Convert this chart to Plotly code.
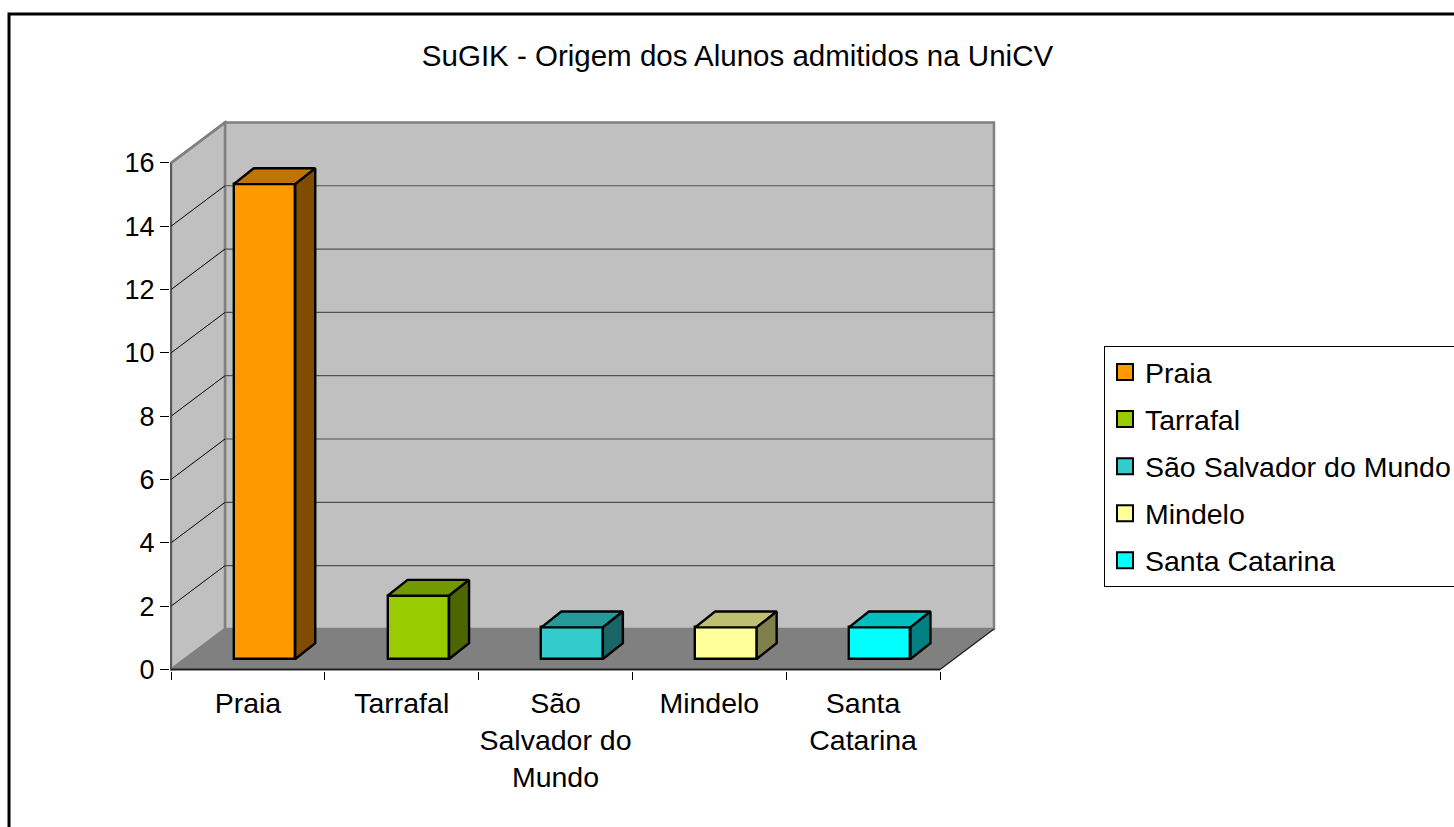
import plotly.graph_objects as go

# ---- data ----
title = "SuGIK - Origem dos Alunos admitidos na UniCV"
categories = ["Praia", "Tarrafal", "São Salvador do Mundo", "Mindelo", "Santa Catarina"]
tick_labels = ["Praia", "Tarrafal", "São<br>Salvador do<br>Mundo", "Mindelo", "Santa<br>Catarina"]
values = [15, 2, 1, 1, 1]
y_ticks = [0, 2, 4, 6, 8, 10, 12, 14, 16]

front_colors = ["#ff9900", "#99cc00", "#33cccc", "#ffff99", "#00ffff"]
top_colors = ["#bf7300", "#739900", "#269999", "#bfbf73", "#00bfbf"]
side_colors = ["#804d00", "#4d6600", "#1a6666", "#80804d", "#008080"]

# ---- page and axis frame ----
W, H = 1454, 827
PL, PR, PT, PB = 170, 998, 118, 671      # plot area in pixels
ox, oy = 171, 669.5                      # pixel position of the chart's front corner
ux, uy = 153.8, 31.66                    # pixels per axis unit
xrange_ = [(PL - ox) / ux - 0.5, (PR - ox) / ux - 0.5]
yrange_ = [(oy - PB) / uy, (oy - PT) / uy]

# ---- pseudo-3D geometry, in axis units ----
wall_dx, wall_dy = 0.351, 1.28           # depth of the chart box
bar_off_x, bar_base = 0.108, 0.33        # bar position inside the box
bar_w = 0.40
bar_dx, bar_dy = 0.13, 0.5               # depth of each bar
x0, x1 = -0.5, len(categories) - 0.5
ymax = y_ticks[-1]
FONT = "Liberation Sans, Arial, sans-serif"


def path(pts):
    return "M " + " L ".join(f"{a} {b}" for a, b in pts) + " Z"


def line(xa, ya, xb, yb, color, width):
    return dict(type="line", xref="x", yref="y", x0=xa, y0=ya, x1=xb, y1=yb,
                line=dict(color=color, width=width), layer="below")


px = lambda p: (p - PL) / (PR - PL)
py = lambda p: (PB - p) / (PB - PT)

shapes = []
# outer chart frame (runs off the right and bottom of the page)
shapes.append(dict(type="rect", xref="paper", yref="paper", x0=px(9), x1=px(1470),
                   y0=py(843), y1=py(14), line=dict(color="black", width=3), layer="below"))
# walls
shapes.append(dict(type="path", xref="x", yref="y", layer="below", fillcolor="#c0c0c0",
                   line=dict(color="#808080", width=2.5),
                   path=path([(x0 + wall_dx, wall_dy), (x1 + wall_dx, wall_dy),
                              (x1 + wall_dx, ymax + wall_dy), (x0 + wall_dx, ymax + wall_dy)])))
shapes.append(dict(type="path", xref="x", yref="y", layer="below", fillcolor="#c0c0c0",
                   line=dict(color="#808080", width=2.5),
                   path=path([(x0, 0), (x0 + wall_dx, wall_dy),
                              (x0 + wall_dx, ymax + wall_dy), (x0, ymax)])))
shapes.append(dict(type="path", xref="x", yref="y", layer="below", fillcolor="#808080",
                   line=dict(color="#808080", width=1),
                   path=path([(x0, 0), (x1, 0), (x1 + wall_dx, wall_dy), (x0 + wall_dx, wall_dy)])))
# gridlines
for t in y_ticks[1:-1]:
    shapes.append(line(x0, t, x0 + wall_dx, t + wall_dy, "black", 1))
    shapes.append(line(x0 + wall_dx, t + wall_dy, x1 + wall_dx, t + wall_dy, "#505050", 1.2))
# axis edges
shapes.append(line(x0, 0, x0, ymax, "#404040", 1.2))
shapes.append(line(x0, ymax, x0 + wall_dx, ymax + wall_dy, "#808080", 2.5))
shapes.append(line(x0, 0, x1, 0, "#202020", 2))
shapes.append(line(x1, 0, x1 + wall_dx, wall_dy, "#202020", 1.2))

fig = go.Figure()

# front faces
idx = list(range(len(categories)))
fig.add_trace(go.Bar(
    x=[i + bar_off_x for i in idx], y=values, base=[bar_base] * len(values), width=bar_w,
    marker=dict(color=front_colors, line=dict(color="black", width=2.4)),
    showlegend=False, hoverinfo="skip"))

# top and side faces
for i, v in enumerate(values):
    left = i + bar_off_x - bar_w / 2
    right = left + bar_w
    top = bar_base + v
    fig.add_trace(go.Scatter(
        x=[left, left + bar_dx, right + bar_dx, right, left],
        y=[top, top + bar_dy, top + bar_dy, top, top],
        mode="lines", fill="toself", fillcolor=top_colors[i],
        line=dict(color="black", width=2.4), showlegend=False, hoverinfo="skip"))
    fig.add_trace(go.Scatter(
        x=[right, right + bar_dx, right + bar_dx, right, right],
        y=[top, top + bar_dy, bar_base + bar_dy, bar_base, top],
        mode="lines", fill="toself", fillcolor=side_colors[i],
        line=dict(color="black", width=2.4), showlegend=False, hoverinfo="skip"))

# legend entries
for i, name in enumerate(categories):
    fig.add_trace(go.Scatter(
        x=[None], y=[None], mode="markers", name=name, legendgroup=name,
        marker=dict(symbol="square", size=16, color=front_colors[i],
                    line=dict(color="black", width=2))))

fig.update_layout(
    width=W, height=H,
    margin=dict(l=PL, r=W - PR, t=PT, b=H - PB, pad=0, autoexpand=False),
    paper_bgcolor="white", plot_bgcolor="rgba(0,0,0,0)",
    font=dict(family=FONT, size=28.5, color="black"),
    title=dict(text=title, x=737.5 / W, xanchor="center", y=1 - 56 / H, yanchor="middle",
               font=dict(family=FONT, size=29.5, color="black")),
    showlegend=True,
    legend=dict(x=px(1104), xanchor="left", y=py(346), yanchor="top",
                bordercolor="black", borderwidth=1, bgcolor="white",
                tracegroupgap=7, font=dict(family=FONT, size=28.5, color="black")),
    shapes=shapes,
    bargap=0,
    xaxis=dict(range=xrange_, tickmode="array", tickvals=idx, ticktext=tick_labels,
               ticks="", showgrid=False, zeroline=False, showline=False, fixedrange=True,
               tickangle=0, ticklabelstandoff=12,
               minor=dict(tickmode="array", tickvals=[i - 0.5 for i in range(len(categories) + 1)],
                          ticks="outside", ticklen=8, tickwidth=1, tickcolor="black", showgrid=False)),
    yaxis=dict(range=yrange_, tickmode="array", tickvals=y_ticks,
               ticks="outside", ticklen=9, tickwidth=1, tickcolor="black",
               tickfont=dict(family=FONT, size=27, color="black"),
               showgrid=False, zeroline=False, showline=False, fixedrange=True),
)

fig.write_html("out.html", config=dict(displayModeBar=False),
               post_script="document.body.style.margin='0';")
